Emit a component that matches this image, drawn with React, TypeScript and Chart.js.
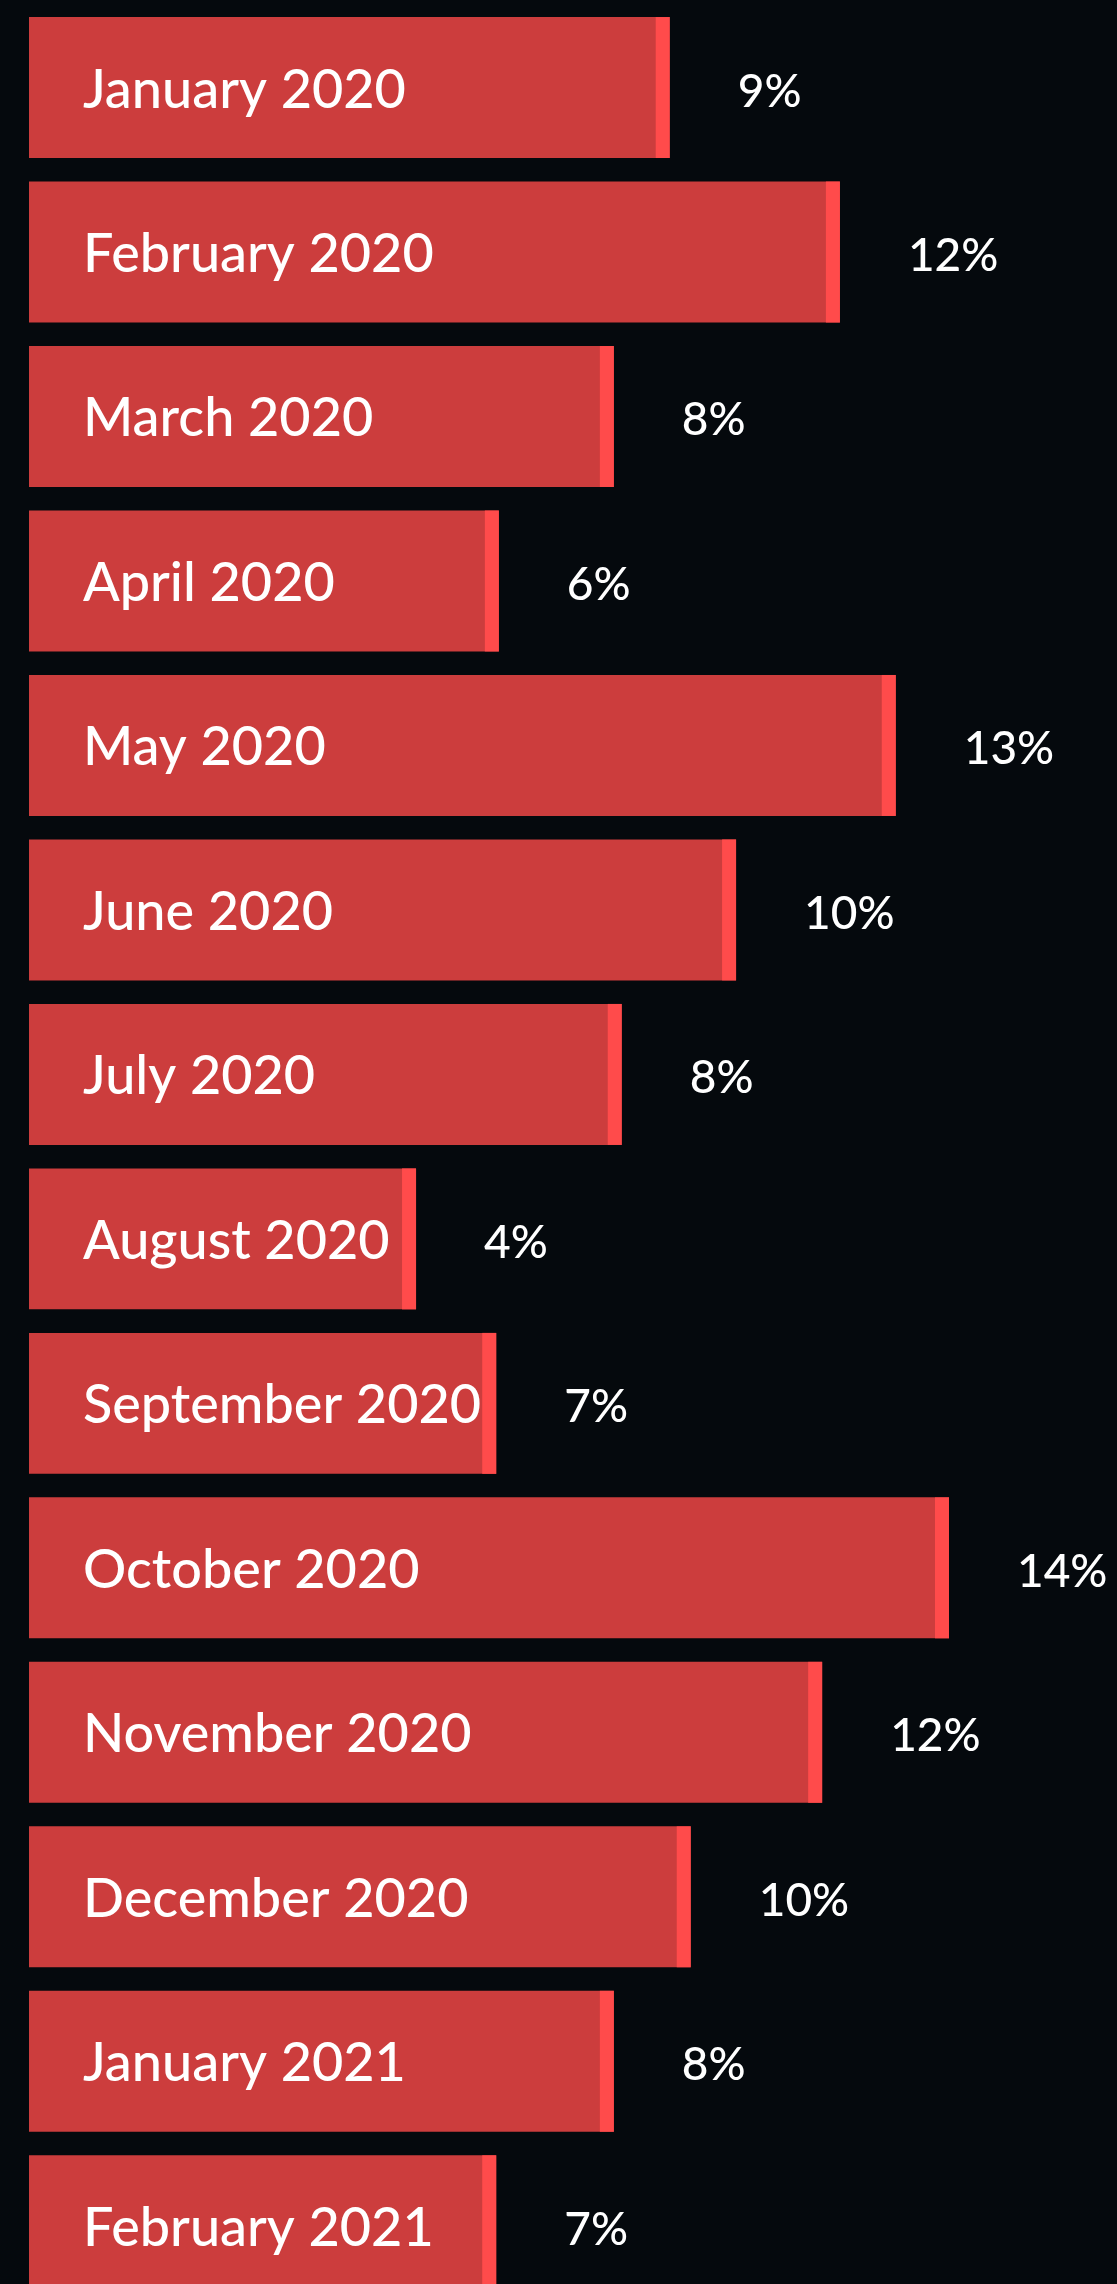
import React, { useEffect, useRef } from "react";
import { Chart, registerables } from "chart.js";

Chart.register(...registerables);

const categories = [
  "January 2020",
  "February 2020",
  "March 2020",
  "April 2020",
  "May 2020",
  "June 2020",
  "July 2020",
  "August 2020",
  "September 2020",
  "October 2020",
  "November 2020",
  "December 2020",
  "January 2021",
  "February 2021",
];

// bar lengths (October = 14)
const barValues = [9.75, 12.34, 8.9, 7.15, 13.19, 10.76, 9.02, 5.89, 7.11, 14.0, 12.07, 10.07, 8.9, 7.11];

// value labels printed next to the bars
const percentLabels = ["9%", "12%", "8%", "6%", "13%", "10%", "8%", "4%", "7%", "14%", "12%", "10%", "8%", "7%"];

const BG = "#05090d";
const BAR = "#cc3d3d";
const BAR_END = "#ff4b4b";
const MONTH_FONT = "500 54px Lato, 'Open Sans', sans-serif";
const PCT_FONT = "500 46px Lato, 'Open Sans', sans-serif";

export default function App() {
  const ref = useRef<HTMLCanvasElement | null>(null);

  useEffect(() => {
    if (!ref.current) return;
    const labelPlugin = {
      id: "barDecor",
      afterDatasetsDraw(chart: any) {
        const ctx = chart.ctx;
        const meta = chart.getDatasetMeta(0);
        ctx.save();
        meta.data.forEach((el: any, i: number) => {
          const h = el.height;
          const top = el.y - h / 2;
          // lighter end cap
          ctx.fillStyle = BAR_END;
          ctx.fillRect(el.x - 14, top, 14, h);
          ctx.fillStyle = "#ffffff";
          ctx.textAlign = "left";
          ctx.textBaseline = "alphabetic";
          // month label inside the bar
          ctx.font = MONTH_FONT;
          ctx.fillText(categories[i], 83, el.y + 20);
          // percentage label after the bar
          ctx.font = PCT_FONT;
          ctx.fillText(percentLabels[i], el.x + 68, el.y + 19);
        });
        ctx.restore();
      },
    };

    const chart = new Chart(ref.current, {
      type: "bar",
      data: {
        labels: categories,
        datasets: [
          {
            data: barValues,
            backgroundColor: BAR,
            borderWidth: 0,
            barPercentage: 0.857,
            categoryPercentage: 1,
          },
        ],
      },
      options: {
        indexAxis: "y",
        responsive: false,
        animation: false,
        devicePixelRatio: 1,
        layout: { padding: { left: 29, right: 102.3, top: 5.3, bottom: 0 } },
        scales: {
          x: { display: false, min: 0, max: 15 },
          y: { display: false },
        },
        plugins: {
          legend: { display: false },
          tooltip: { enabled: false },
        },
      },
      plugins: [labelPlugin],
    } as any);
    return () => chart.destroy();
  }, []);

  return (
    <div
      style={{
        position: "absolute",
        left: 0,
        top: 0,
        width: 1117,
        height: 2284,
        overflow: "hidden",
        background: BG,
      }}
    >
      <canvas ref={ref} width={1117} height={2308} style={{ display: "block" }} />
    </div>
  );
}
